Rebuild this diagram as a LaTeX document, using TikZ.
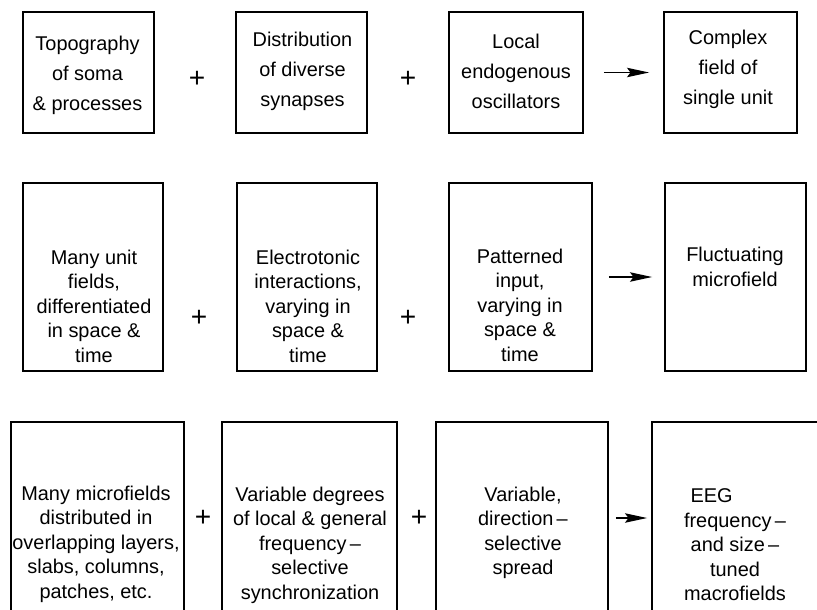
\documentclass[tikz,border=0pt]{standalone}
\usepackage{fontspec}
\setmainfont{Liberation Sans}
\usetikzlibrary{arrows.meta}

\begin{document}
\begin{tikzpicture}[
  x=0.03cm, y=-0.03cm,
  eegbox/.style={draw, line width=1.5pt, inner sep=0pt},
  eegtext/.style={align=center, inner sep=0pt, font=\fontsize{17}{20.9}\selectfont},
  eegtop/.style={eegtext, font=\fontsize{17}{25.6}\selectfont},
  eegplus/.style={inner sep=0pt, font=\fontsize{24}{24}\selectfont},
  eegarrow/.style={-{Stealth[length=6.6mm,width=2.8mm,inset=1mm]}, line width=1.5pt}
]
\useasboundingbox (0,0) rectangle (817,609);
\clip (0,0) rectangle (817,609);
\fill[white] (0,0) rectangle (817,609);

% single unit
\node[eegbox, minimum width=3.93cm, minimum height=3.63cm] (topo) at (88.5,72.5) {};
\node[eegbox, minimum width=3.93cm, minimum height=3.63cm] (syn) at (301.5,72.5) {};
\node[eegbox, minimum width=4.02cm, minimum height=3.63cm] (osc) at (516,72.5) {};
\node[eegbox, minimum width=3.99cm, minimum height=3.63cm] (single) at (730.5,72.5) {};
\node[eegtop] (topo-t) at (87.5,75) {Topography\\of soma\\\& processes};
\node[eegtop] (syn-t) at (302.5,71) {Distribution\\of diverse\\synapses};
\node[eegtop] (osc-t) at (516,71) {Local\\endogenous\\oscillators};
\node[eegtop] (single-t) at (728,69) {Complex\\field of\\single unit};
\node[eegplus] (plus1) at (197,79) {+};
\node[eegplus] (plus2) at (408,79) {+};
\draw[eegarrow, shorten <=0.6cm, shorten >=0.42cm] (osc) -- (single);

% microfield
\node[eegbox, minimum width=4.2cm, minimum height=5.64cm] (many) at (93,277) {};
\node[eegbox, minimum width=4.2cm, minimum height=5.64cm] (elec) at (307,277) {};
\node[eegbox, minimum width=4.29cm, minimum height=5.64cm] (patt) at (520.5,277) {};
\node[eegbox, minimum width=4.23cm, minimum height=5.64cm] (fluct) at (735.5,277) {};
\node[eegtext] (many-t) at (94,306) {Many unit\\fields,\\differentiated\\in space \&\\time};
\node[eegtext] (elec-t) at (308,306) {Electrotonic\\interactions,\\varying in\\space \&\\time};
\node[eegtext] (patt-t) at (520,305) {Patterned\\input,\\varying in\\space \&\\time};
\node[eegtext] (fluct-t) at (735,267) {Fluctuating\\microfield};
\node[eegplus] (plus3) at (199,318) {+};
\node[eegplus] (plus4) at (408,318) {+};
\draw[eegarrow, shorten <=0.48cm, shorten >=0.36cm] (patt) -- (fluct);

% macrofield
\node[eegbox, minimum width=5.19cm, minimum height=5.76cm] (micro) at (97.5,518) {};
\node[eegbox, minimum width=5.25cm, minimum height=5.76cm] (sync) at (309.5,518) {};
\node[eegbox, minimum width=5.16cm, minimum height=5.76cm] (spread) at (522,518) {};
\node[eegbox, minimum width=6.54cm, minimum height=5.76cm] (macro) at (761,518) {};
\node[eegtext] (micro-t) at (96,544) {Many microfields\\distributed in\\overlapping layers,\\slabs, columns,\\patches, etc.};
\node[eegtext] (sync-t) at (310,545) {Variable degrees\\of local \& general\\frequency\,–\\selective\\synchronization};
\node[eegtext] (spread-t) at (523,533) {Variable,\\direction\,–\\selective\\spread};
\node[eegtext] (macro-t) at (735,545) {EEG\hspace*{1.4cm}\\frequency\,–\\and size\,–\\tuned\\macrofields};
\node[eegplus] (plus5) at (203,518) {+};
\node[eegplus] (plus6) at (419,518) {+};
\draw[eegarrow, shorten <=0.21cm, shorten >=0.12cm] (spread) -- (macro);
\end{tikzpicture}
\end{document}
